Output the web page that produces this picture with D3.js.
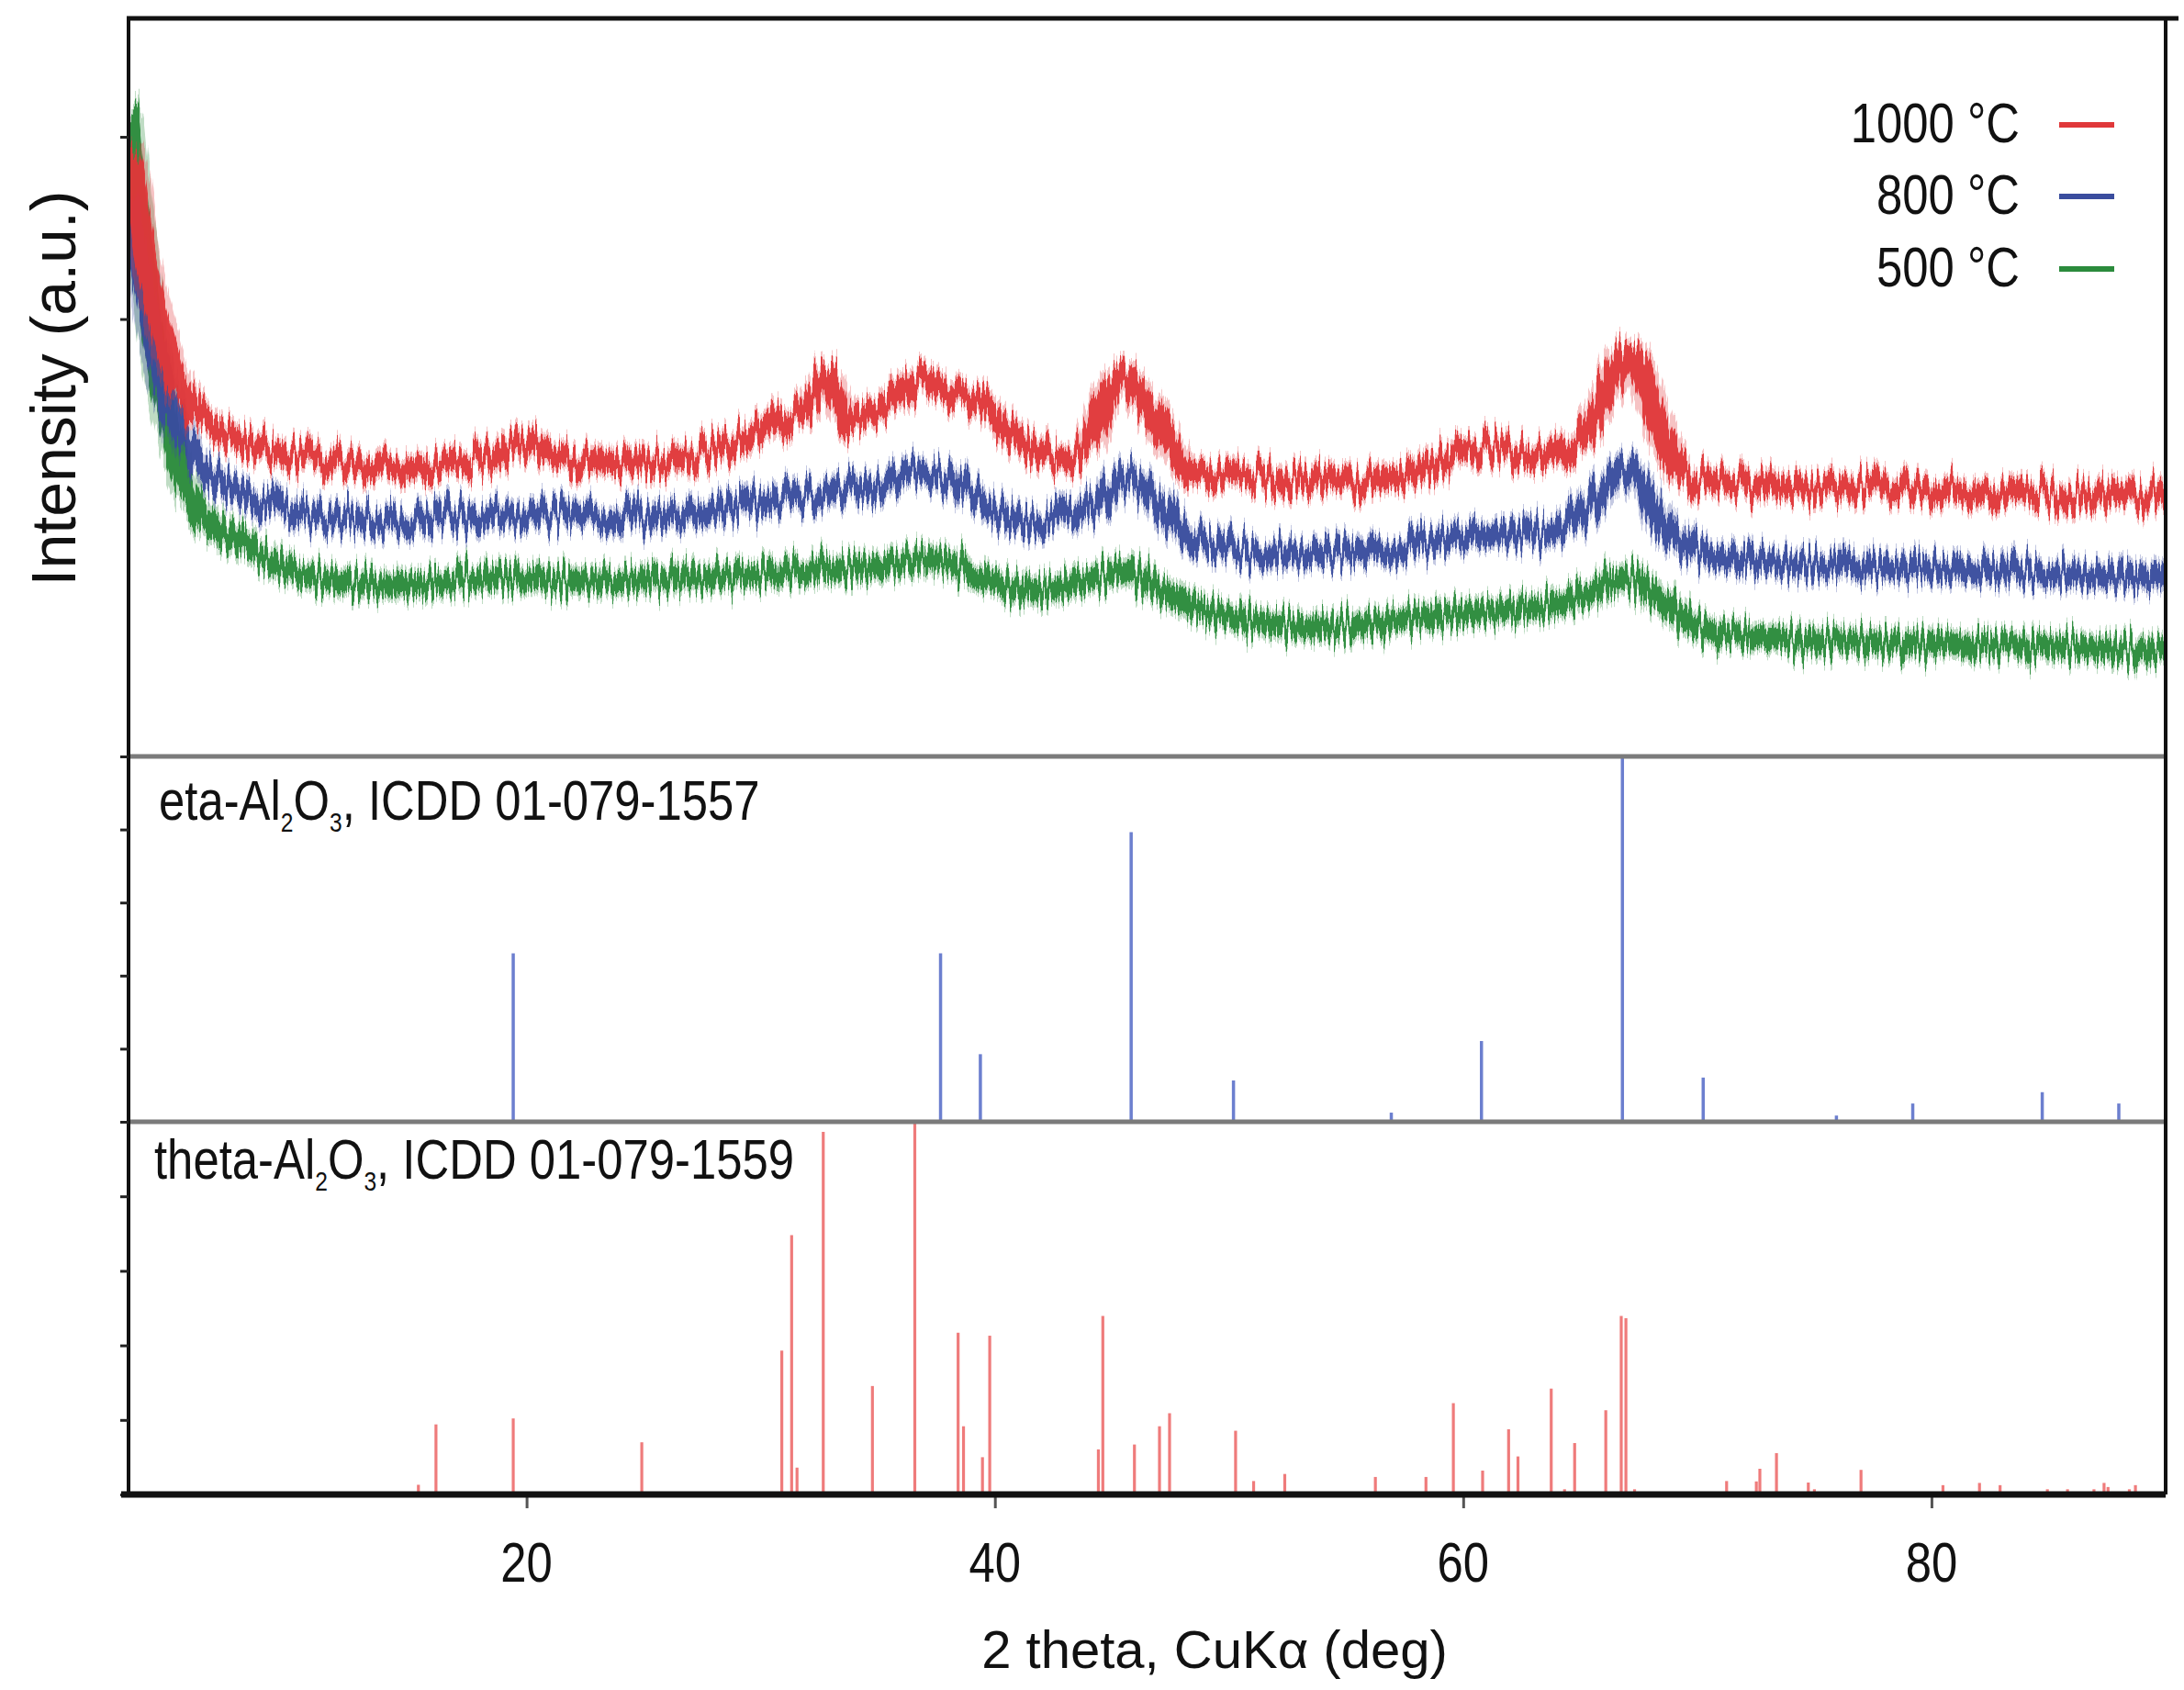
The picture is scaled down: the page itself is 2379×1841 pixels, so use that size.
<!DOCTYPE html>
<html><head><meta charset="utf-8">
<script src="https://cdn.jsdelivr.net/npm/d3@7/dist/d3.min.js"></script>
<style>html,body{margin:0;padding:0;background:#fff;}svg{display:block;}</style>
</head><body>
<script>
// ---------------- DATA ----------------
const xTicks = [20, 40, 60, 80];
const topTicks = [600, 3000, 4000];
const stickTicks = [0, 20, 40, 60, 80, 100];
const legendLabels = ["1000 °C", "800 °C", "500 °C"];
const seriesColors = ["#e0383a", "#3a4d9e", "#2b8b3c"];

// 2θ (deg), intensity (counts, offset)
const s1000 = [[3.0,3900],[3.3,3743],[3.6,3431],[4.0,3164],[4.4,2937],[4.8,2746],[5.5,2549],[6.5,2423],[7.5,2353],[9,2282],[11,2222],[13,2202],[15,2192],[17,2207],[18.5,2252],[19.8,2318],[21,2252],[23,2217],[25,2212],[27,2242],[28.5,2292],[30,2383],[31,2459],[32.0,2534],[32.6,2645],[32.9,2685],[33.3,2559],[33.8,2449],[34.5,2474],[35.3,2519],[36.2,2610],[36.9,2670],[37.7,2610],[38.5,2569],[39.4,2534],[40.2,2433],[41.6,2297],[43.0,2232],[43.9,2297],[44.7,2534],[45.5,2685],[46.4,2549],[47.4,2348],[48.2,2182],[49.5,2151],[51,2136],[53,2121],[55,2111],[57,2131],[58.5,2182],[60,2282],[61.5,2282],[63,2232],[64.5,2297],[65.5,2433],[66.3,2660],[67.0,2815],[67.6,2726],[68.3,2423],[69.0,2207],[70,2106],[72,2091],[75,2081],[78,2071],[81,2056],[84,2041],[87,2031],[90,2046]];
const s800 = [[3.0,3617],[3.3,3416],[3.6,3239],[4.0,2937],[4.6,2595],[5.5,2308],[6.5,2156],[7.5,2066],[9,1980],[10.5,1930],[13,1900],[15,1889],[17,1915],[19.5,1930],[22,1930],[25,1915],[27,1930],[29,1970],[31,2015],[33,2046],[35,2091],[36.5,2146],[37.5,2141],[38.6,2066],[40,1955],[41.5,1879],[43,1920],[44.5,2005],[45.6,2131],[46.5,2056],[47.6,1905],[48.5,1789],[50,1738],[52,1713],[55,1718],[57,1738],[59,1789],[61,1819],[63,1819],[64.2,1854],[65.3,1965],[66.2,2096],[66.9,2172],[67.6,2091],[68.4,1905],[69.3,1779],[71,1688],[74,1658],[77,1643],[80,1633],[84,1612],[87,1592],[90,1577]];
const s500 = [[3.0,4100],[3.2,3844],[3.4,3592],[3.7,3290],[4.0,2937],[4.6,2499],[5.5,2081],[6.5,1889],[7.5,1789],[8.5,1713],[10,1617],[12,1557],[14,1537],[16,1552],[18,1577],[20,1572],[22,1562],[25,1567],[28,1587],[30,1602],[32,1617],[34,1628],[36,1663],[37.5,1678],[39.5,1587],[41.5,1502],[43,1537],[44.5,1587],[45.5,1617],[46.5,1552],[48,1451],[50,1366],[52,1325],[54,1310],[56,1325],[58,1361],[60,1386],[62,1401],[64,1436],[65.5,1502],[67,1577],[68.5,1451],[70,1310],[72,1260],[75,1235],[78,1225],[81,1215],[84,1209],[87,1194],[90,1174]];

// reference patterns: 2θ (deg), relative intensity (%)
const etaPeaks = [[19.43,46.1],[37.68,46.1],[39.38,18.5],[45.82,79.3],[50.19,11.3],[56.93,2.5],[60.78,22.1],[66.8,100],[70.25,12.1],[75.94,1.7],[79.2,5.0],[84.73,8.1],[88.0,5.0]];
const thetaPeaks = [[15.38,2.6],[16.13,18.8],[19.43,20.4],[24.92,14.0],[30.9,38.6],[31.32,69.6],[31.55,7.2],[32.67,97.3],[34.77,29.1],[36.58,100],[38.43,43.4],[38.66,18.3],[39.47,10],[39.78,42.6],[44.42,12.1],[44.61,47.9],[45.96,13.4],[47.03,18.3],[47.46,21.8],[50.28,17.1],[51.05,3.6],[52.38,5.5],[56.25,4.7],[58.41,4.7],[59.58,24.5],[60.83,6.4],[61.94,17.5],[62.34,10.2],[63.76,28.4],[64.33,1.4],[64.76,13.8],[66.09,22.6],[66.75,47.9],[66.95,47.3],[67.32,1.4],[71.25,3.6],[72.52,3.5],[72.67,6.9],[73.38,11.1],[74.74,3.2],[75.0,1.4],[76.99,6.6],[80.49,2.5],[82.05,3.1],[82.93,2.5],[84.95,1.4],[85.81,1.4],[86.94,1.4],[87.37,3.1],[87.54,2.0],[88.45,1.4],[88.71,2.5]];

// ---------------- LAYOUT ----------------
const W = 2379, H = 1841;
const L = 140, R = 2359, T = 20, S1 = 824, S2 = 1222, B = 1628;

function hasFont(name){
  const c = document.createElement('canvas').getContext('2d');
  const s = 'mmmmmmmmmmlli1000WW';
  c.font = '72px monospace'; const a = c.measureText(s).width;
  c.font = '72px "' + name + '", monospace'; const b = c.measureText(s).width;
  return Math.abs(a - b) > 0.5;
}
const narrowOK = hasFont('Liberation Sans Narrow');
const NF = narrowOK ? '"Liberation Sans Narrow", "Liberation Sans", Arial, sans-serif' : '"Liberation Sans", Arial, sans-serif';
const NS = narrowOK ? 1 : 0.82;
const RF = '"Liberation Sans", Arial, Helvetica, sans-serif';

const svg = d3.select('body').append('svg').attr('width', W).attr('height', H);

const x = d3.scaleLinear().domain([3, 90]).range([L, R]);
const yTop = d3.scaleLinear().domain([600, 4650]).range([S1, T]);
const yEta = d3.scaleLinear().domain([0, 100]).range([S2, S1]);
const yTheta = d3.scaleLinear().domain([0, 100]).range([B, S2]);

// noise texture filter for the measured patterns (rendering texture only)
const defs = svg.append('defs');
function noiseFilter(id, seed){
  const f = defs.append('filter').attr('id', id).attr('filterUnits', 'userSpaceOnUse')
    .attr('x', L - 10).attr('y', T - 60).attr('width', R - L + 20).attr('height', S1 - T + 100)
    .attr('color-interpolation-filters', 'sRGB');
  f.append('feTurbulence').attr('type', 'fractalNoise').attr('baseFrequency', '0.3 0.003')
    .attr('numOctaves', 3).attr('seed', seed).attr('result', 'n');
  f.append('feColorMatrix').attr('in', 'n').attr('type', 'matrix')
    .attr('values', '1.5 0 0 0 -0.25  0 0 0 0 0.5  0 0 0 0 0  0 0 0 0 1').attr('result', 'm');
  f.append('feDisplacementMap').attr('in', 'SourceGraphic').attr('in2', 'm')
    .attr('scale', 40).attr('xChannelSelector', 'G').attr('yChannelSelector', 'R');
}
noiseFilter('noisy0', 3); noiseFilter('noisy1', 11); noiseFilter('noisy2', 27);

defs.append('clipPath').attr('id', 'topclip').append('rect')
  .attr('x', L + 2).attr('y', T + 2).attr('width', R - L - 4).attr('height', S1 - T - 4);

// ---------------- TOP PANEL: patterns ----------------
const line = d3.line().x(d => x(d[0])).y(d => yTop(d[1])).curve(d3.curveMonotoneX);
const gTop = svg.append('g').attr('clip-path', 'url(#topclip)');
[s500, s800, s1000].forEach((s, i) => {
  const col = seriesColors[2 - i];
  const inner = gTop.append('g').attr('filter', `url(#noisy${i})`);
  inner.append('path').datum(s).attr('d', line).attr('fill', 'none')
    .attr('stroke', col).attr('stroke-width', 34).attr('stroke-opacity', 0.3)
    .attr('stroke-linejoin', 'round').attr('stroke-linecap', 'round');
  inner.append('path').datum(s).attr('d', line).attr('fill', 'none')
    .attr('stroke', col).attr('stroke-width', 23).attr('stroke-opacity', 0.95)
    .attr('stroke-linejoin', 'round').attr('stroke-linecap', 'round');
});

// ---------------- STICK PANELS ----------------
svg.append('g').selectAll('line').data(etaPeaks).join('line')
  .attr('x1', d => x(d[0])).attr('x2', d => x(d[0]))
  .attr('y1', yEta(0)).attr('y2', d => yEta(d[1]))
  .attr('stroke', '#6c7fcf').attr('stroke-width', 3.5);
svg.append('g').selectAll('line').data(thetaPeaks).join('line')
  .attr('x1', d => x(d[0])).attr('x2', d => x(d[0]))
  .attr('y1', yTheta(0)).attr('y2', d => yTheta(d[1]))
  .attr('stroke', '#ef7b7b').attr('stroke-width', 3.2);

// ---------------- FRAME & AXES ----------------
const frame = svg.append('g');
frame.append('line').attr('x1', L).attr('x2', R).attr('y1', S1).attr('y2', S1).attr('stroke', '#7b7b7b').attr('stroke-width', 5);
frame.append('line').attr('x1', L).attr('x2', R).attr('y1', S2).attr('y2', S2).attr('stroke', '#7b7b7b').attr('stroke-width', 5);
frame.append('line').attr('x1', L - 2).attr('x2', R + 14).attr('y1', T).attr('y2', T).attr('stroke', '#111').attr('stroke-width', 5);
frame.append('line').attr('x1', R).attr('x2', R).attr('y1', T).attr('y2', B).attr('stroke', '#111').attr('stroke-width', 4);

function leftAxis(scale, ticks){
  const g = svg.append('g').attr('transform', `translate(${L},0)`)
    .call(d3.axisLeft(scale).tickValues(ticks).tickSize(9).tickFormat(''));
  g.select('.domain').remove();
  g.selectAll('.tick line').attr('stroke', '#222').attr('stroke-width', 3);
}
leftAxis(yTop, topTicks);
leftAxis(yEta, stickTicks);
leftAxis(yTheta, stickTicks);
frame.append('line').attr('x1', L).attr('x2', L).attr('y1', T - 2).attr('y2', B).attr('stroke', '#111').attr('stroke-width', 4);

const gx = svg.append('g').attr('transform', `translate(0,${B})`)
  .call(d3.axisBottom(x).tickValues(xTicks).tickSize(15).tickFormat(''));
gx.select('.domain').remove();
gx.selectAll('.tick line').attr('stroke', '#555').attr('stroke-width', 3);
svg.append('line').attr('x1', L - 8).attr('x2', R).attr('y1', B).attr('y2', B).attr('stroke', '#111').attr('stroke-width', 7);

function ntext(px, py, anchor, size, str){
  return svg.append('text').attr('transform', `translate(${px},${py}) scale(${NS},1)`)
    .attr('text-anchor', anchor).attr('font-family', NF).attr('font-size', size)
    .attr('fill', '#111').text(str);
}
xTicks.forEach(v => ntext(x(v), 1723, 'middle', 62, String(v)));

svg.append('text').attr('x', 1323).attr('y', 1817).attr('text-anchor', 'middle')
  .attr('font-family', RF).attr('font-size', 58).attr('fill', '#111').text('2 theta, CuKα (deg)');
svg.append('text').attr('transform', 'translate(82,423) rotate(-90)').attr('text-anchor', 'middle')
  .attr('font-family', RF).attr('font-size', 68).attr('fill', '#111').text('Intensity (a.u.)');

function phaseLabel(px, py, prefix, suffix){
  const t = svg.append('text').attr('transform', `translate(${px},${py}) scale(${NS},1)`)
    .attr('font-family', NF).attr('font-size', 62).attr('fill', '#111');
  t.append('tspan').text(prefix + 'Al');
  t.append('tspan').attr('font-size', 30).attr('dy', 13).text('2');
  t.append('tspan').attr('dy', -13).text('O');
  t.append('tspan').attr('font-size', 30).attr('dy', 13).text('3');
  t.append('tspan').attr('dy', -13).text(suffix);
}
phaseLabel(173, 893, 'eta-', ', ICDD 01-079-1557');
phaseLabel(168, 1284, 'theta-', ', ICDD 01-079-1559');

const legY = [155, 233, 312];
legendLabels.forEach((lab, i) => {
  ntext(2200, legY[i], 'end', 62, lab);
  svg.append('line').attr('x1', 2243).attr('x2', 2303).attr('y1', legY[i] - 19).attr('y2', legY[i] - 19)
    .attr('stroke', seriesColors[i]).attr('stroke-width', 6);
});
</script>
</body></html>
